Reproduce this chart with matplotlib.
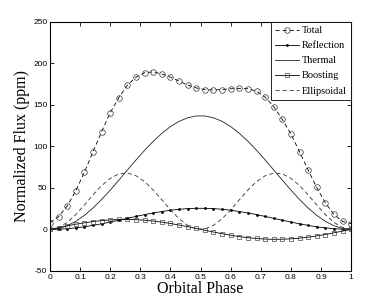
import numpy as np
import matplotlib
matplotlib.use("Agg")
import matplotlib.pyplot as plt

# orbital phase grid (36 samples, 0..1)
phase = np.linspace(0, 1, 36)

# values (ppm)
total = [8.2, 15.4, 28.3, 46.7, 68.9, 93.7, 117.8, 140.7, 158.8, 174.0, 183.4, 189.0,
         189.8, 187.3, 183.4, 178.6, 174.0, 170.5, 168.5, 168.0, 168.5, 169.5, 170.0, 169.5,
         166.5, 159.5, 148.0, 132.5, 115.0, 93.5, 71.5, 50.5, 32.0, 18.0, 9.5, 7.0]
reflection = [0.0, 0.2, 0.8, 1.8, 3.1, 4.8, 6.7, 8.8, 11.0, 13.3, 15.6, 17.8,
              19.8, 21.5, 23.1, 24.2, 25.0, 25.4, 25.4, 25.0, 24.2, 23.1, 21.5, 19.8,
              17.8, 15.6, 13.3, 11.0, 8.8, 6.7, 4.8, 3.1, 1.8, 0.8, 0.2, 0.0]
thermal = [0.0, 1.1, 4.4, 9.7, 16.9, 25.8, 36.1, 47.3, 59.3, 71.6, 83.7, 95.4,
           106.2, 115.8, 123.9, 130.2, 134.5, 136.7, 136.7, 134.5, 130.2, 123.9, 115.8, 106.2,
           95.4, 83.7, 71.6, 59.3, 47.3, 36.1, 25.8, 16.9, 9.7, 4.4, 1.1, 0.0]
boosting = [0.0, 2.1, 4.2, 6.2, 7.9, 9.4, 10.6, 11.4, 11.9, 12.0, 11.7, 11.0,
            10.0, 8.7, 7.1, 5.2, 3.2, 1.1, -1.1, -3.2, -5.2, -7.1, -8.7, -10.0,
            -11.0, -11.7, -12.0, -11.9, -11.4, -10.6, -9.4, -7.9, -6.2, -4.2, -2.1, 0.0]
ellipsoidal = [0.0, 2.2, 8.4, 17.9, 29.4, 41.6, 52.8, 61.5, 66.8, 67.9, 64.6, 57.5,
               47.4, 35.6, 23.5, 12.8, 4.8, 0.5, 0.5, 4.8, 12.8, 23.5, 35.6, 47.4,
               57.5, 64.6, 67.9, 66.8, 61.5, 52.8, 41.6, 29.4, 17.9, 8.4, 2.2, 0.0]

xticks = np.arange(0, 1.01, 0.1)
yticks = np.arange(-50, 251, 50)

plt.rcParams['axes.unicode_minus'] = False

fig = plt.figure(figsize=(3.88, 3.05), dpi=100)
ax = fig.add_axes([0.129, 0.112, 0.776, 0.816])

lw = 0.6
ax.plot(phase, total, color='k', lw=lw, ls=(0, (5, 3.5)), marker='o', ms=4,
        mfc='none', mec='#333333', mew=0.5, label='Total')
ax.plot(phase, reflection, color='k', lw=lw, marker='.', ms=2, label='Reflection')
ax.plot(phase, thermal, color='#222222', lw=lw, label='Thermal')
ax.plot(phase, boosting, color='k', lw=lw, marker='s', ms=3.5, mfc='none',
        mec='#444444', mew=0.5, label='Boosting')
ax.plot(phase, ellipsoidal, color='#333333', lw=lw, ls=(0, (5, 3.5)), label='Ellipsoidal')

ax.set_xlim(0, 1)
ax.set_ylim(-50, 250)
ax.set_xticks(xticks)
ax.set_yticks(yticks)
ax.set_xticklabels([f"{t:g}" for t in xticks])
ax.tick_params(direction='in', length=3, width=0.6, top=True, right=True,
               labelsize=6, pad=2)
for lab in ax.get_xticklabels() + ax.get_yticklabels():
    lab.set_family('Liberation Sans')
for s in ax.spines.values():
    s.set_linewidth(0.8)

ax.set_xlabel('Orbital Phase', family='Liberation Serif', fontsize=11.5, labelpad=0)
ax.set_ylabel('Normalized Flux (ppm)', family='Liberation Serif', fontsize=11.5, labelpad=2)

leg = ax.legend(loc='upper right', borderaxespad=0, fancybox=False,
                prop={'family': 'Liberation Serif', 'size': 7.5},
                handlelength=2.3, handletextpad=0.3, labelspacing=0.55,
                borderpad=0.4, framealpha=1)
leg.get_frame().set_edgecolor('k')
leg.get_frame().set_linewidth(0.6)

fig.savefig('out.png', dpi=100)
